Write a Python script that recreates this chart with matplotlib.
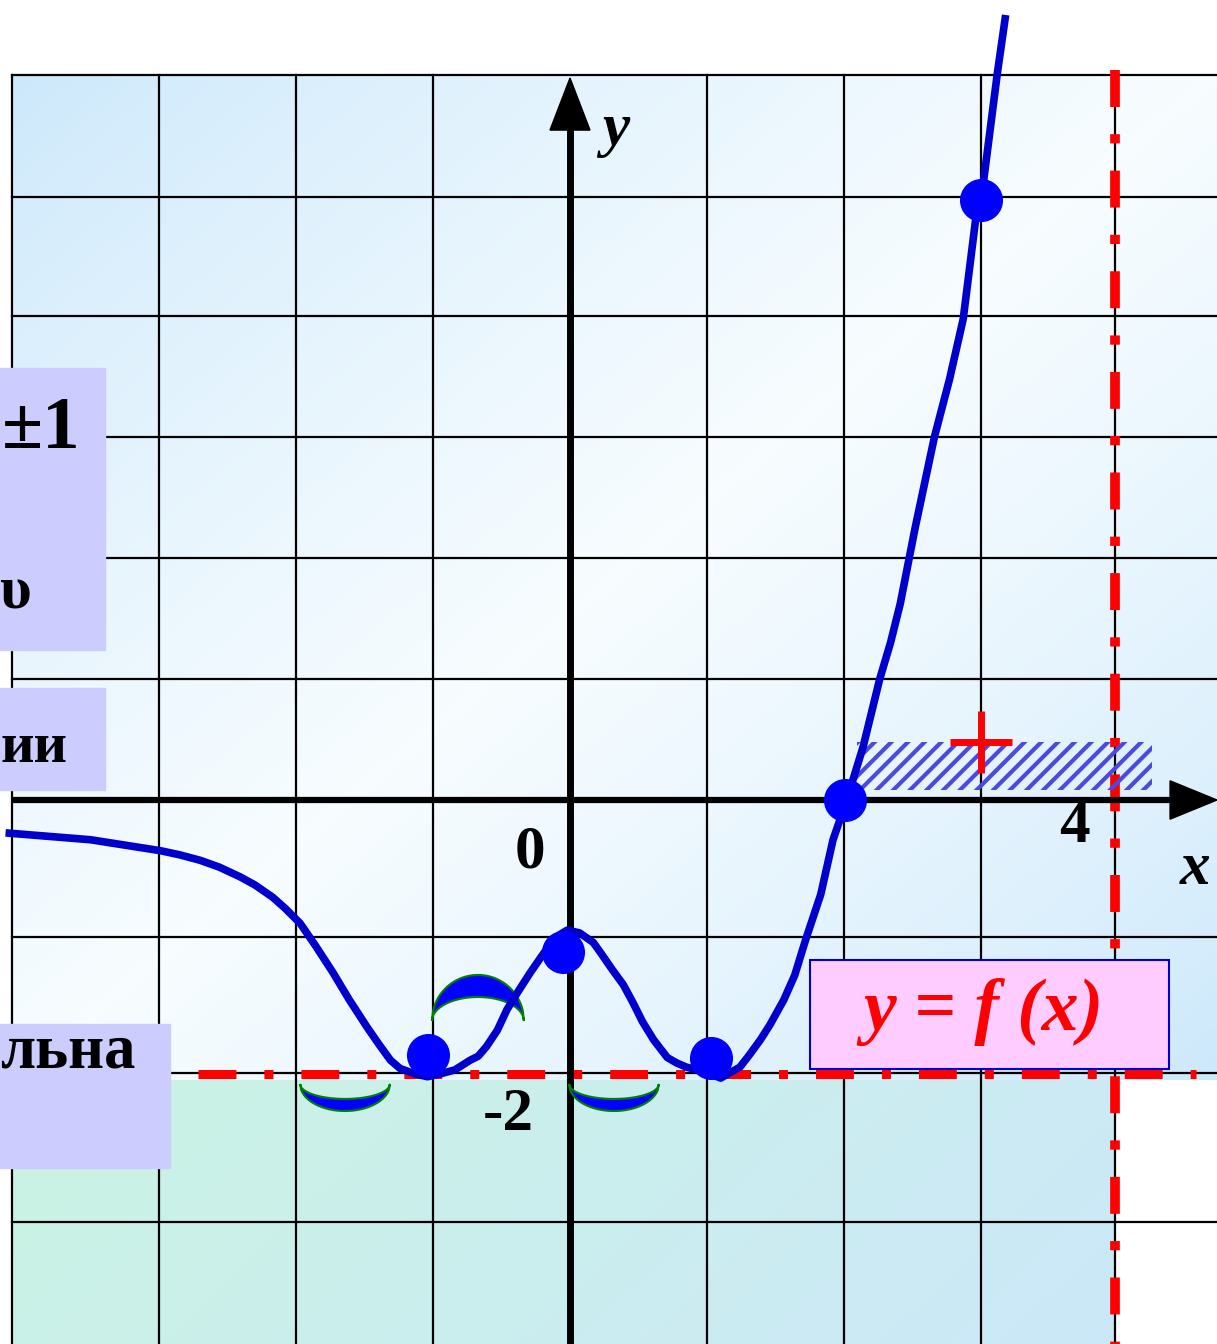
import numpy as np
import matplotlib
matplotlib.use('Agg')
import matplotlib.pyplot as plt
from matplotlib.patches import Polygon, Rectangle

# точки кривой y = f(x)
curve_x = [-4.12, -3.50, -2.99, -2.85, -2.70, -2.56, -2.41, -2.30, -2.17, -2.08, -1.97,
           -1.86, -1.73, -1.61, -1.48, -1.39, -1.31, -1.24, -1.13, -1.04, -0.95, -0.84,
           -0.73, -0.67, -0.61, -0.53, -0.46, -0.38, -0.29, -0.20, -0.12, -0.07, -0.02,
           0.07, 0.17, 0.22, 0.31, 0.39, 0.46, 0.53, 0.61, 0.71, 0.78, 0.85, 0.93, 1.00,
           1.10, 1.24, 1.31, 1.39, 1.46, 1.56, 1.64, 1.72, 1.83, 1.92, 2.02, 2.14, 2.26,
           2.34, 2.41, 2.52, 2.59, 2.66, 2.77, 2.87, 2.96, 3.00, 3.12, 3.18]
curve_y = [-0.24, -0.29, -0.37, -0.40, -0.44, -0.49, -0.56, -0.62, -0.71, -0.79, -0.90,
           -1.06, -1.26, -1.46, -1.66, -1.79, -1.90, -1.96, -2.00, -2.02, -2.00, -1.97,
           -1.90, -1.87, -1.80, -1.68, -1.53, -1.40, -1.26, -1.13, -1.02, -0.98, -0.95,
           -0.97, -1.04, -1.11, -1.24, -1.35, -1.48, -1.62, -1.75, -1.88, -1.92, -1.95,
           -1.97, -1.99, -2.03, -1.95, -1.86, -1.75, -1.64, -1.46, -1.28, -1.02, -0.69,
           -0.29, 0.00, 0.39, 0.88, 1.15, 1.43, 1.99, 2.32, 2.65, 3.07, 3.51, 4.23, 4.37,
           5.31, 5.73]

# отмеченные точки
dot_x = [-1.04, -0.05, 1.03, 2.01, 3.00]
dot_y = [-1.86, -1.11, -1.88, 0.00, 4.38]

# линии сетки
grid_x = [-4.07, -3, -2, -1, 1, 2, 3, 3.98]
grid_y = [5.29, 4.40, 3.53, 2.65, 1.77, 0.88, -1.00, -1.99, -3.08]

# асимптоты / уровни
y_level = -2
x_level = 3.98

# подписи на осях
tick_labels = ['0', '4', '-2']

FIG_W, FIG_H = 1217, 1344
SCALE = 137.0
X0, Y0 = 570, 800
xmin, xmax = -X0 / SCALE, (FIG_W - X0) / SCALE
ymin, ymax = (Y0 - FIG_H) / SCALE, Y0 / SCALE

fig = plt.figure(figsize=(FIG_W / 100, FIG_H / 100), dpi=100)
ax = fig.add_axes([0, 0, 1, 1])
ax.set_axis_off()

serif = 'Liberation Serif'

# фон: голубой градиент
left, top = grid_x[0], grid_y[0]
bot_blue = -2.044
nx, ny = 200, 200
u = np.linspace(0, 1, nx)[None, :]
v = np.linspace(0, 1, ny)[:, None]
t = (u + v) / 2
w = (1 - np.abs(2 * t - 1)) ** 0.8
blue = np.array([0.80, 0.91, 0.985])
white = np.array([0.97, 0.99, 1.0])
img = blue[None, None, :] + (white - blue)[None, None, :] * w[:, :, None]
ax.imshow(img, extent=(left, xmax, bot_blue, top), origin='upper',
          aspect='auto', interpolation='bilinear', zorder=0)

# нижняя зелёная область
g_left = np.array([0.79, 0.955, 0.89])
g_right = np.array([0.80, 0.91, 0.975])
s = np.clip((u * 0.8 + v * 0.2), 0, 1)
img2 = g_left[None, None, :] + (g_right - g_left)[None, None, :] * s[:, :, None]
ax.imshow(img2, extent=(left, x_level, ymin, bot_blue), origin='upper',
          aspect='auto', interpolation='bilinear', zorder=0)

# сетка
for gx in grid_x:
    ax.plot([gx, gx], [ymin, top], color='black', lw=1.6, zorder=1)
for gy in grid_y:
    ax.plot([left, xmax], [gy, gy], color='black', lw=1.6, zorder=1)

# красные штрихпунктирные линии
ax.plot([-2.715, 4.57], [y_level, y_level], color='red', lw=6.5,
        dashes=(4.2, 3.1, 1.0, 3.1), dash_capstyle='butt', zorder=2)
ax.plot([x_level, x_level], [5.33, ymin], color='red', lw=7,
        dashes=(3.8, 2.8, 0.95, 2.8), dash_capstyle='butt', zorder=2)

# штриховка и знак +
plt.rcParams['hatch.linewidth'] = 3
ax.fill_between([2.095, 4.25], 0.07, 0.42, facecolor='none', edgecolor='#4a4ae0',
                hatch='//', linewidth=0, zorder=3)
ax.plot(3.0, 0.42, marker='+', color='red', markersize=45, mew=5, zorder=4)

# оси
ax.plot([left, 4.40], [0, 0], color='black', lw=4.5, solid_capstyle='butt', zorder=5)
ax.add_patch(Polygon([[4.38, 0.14], [4.38, -0.14], [xmax, 0]], closed=True,
                     color='black', zorder=5))
ax.plot([0, 0], [ymin, 4.92], color='black', lw=5, solid_capstyle='butt', zorder=5)
ax.add_patch(Polygon([[-0.146, 4.89], [0.146, 4.89], [0, 5.27]], closed=True,
                     color='black', zorder=5))

# дуги выпуклости / вогнутости
def crescent(cx, hw, tip, outer, inner):
    uu = np.linspace(-1, 1, 80)
    xs = cx + hw * uu
    shape = np.sqrt(1 - uu ** 2)
    yo = tip + (outer - tip) * shape
    yi = tip + (inner - tip) * shape
    pts = np.column_stack([np.r_[xs, xs[::-1]], np.r_[yo, yi[::-1]]])
    ax.add_patch(Polygon(pts, closed=True, facecolor='#0000ff', edgecolor='#008000',
                         lw=1.5, zorder=6))

crescent(-0.672, 0.336, -1.613, -1.277, -1.438)
crescent(-1.642, 0.328, -2.073, -2.270, -2.182)
crescent(0.321, 0.328, -2.073, -2.270, -2.182)

# кривая и точки
ax.plot(curve_x, curve_y, color='#0000cc', lw=5.5, solid_joinstyle='round',
        solid_capstyle='butt', zorder=7)
ax.plot(dot_x, dot_y, 'o', color='#0000ff', markersize=31, markeredgewidth=0, zorder=8)

# подписи
ax.text(0.33, 4.89, 'y', fontsize=44, family=serif, style='italic', weight='bold',
        ha='center', va='center', zorder=9)
ax.text(4.56, -0.50, 'x', fontsize=44, family=serif, style='italic', weight='bold',
        ha='center', va='center', zorder=9)
ax.text(-0.29, -0.38, tick_labels[0], fontsize=44, family=serif, weight='bold',
        ha='center', va='center', zorder=9)
ax.text(3.68, -0.20, tick_labels[1], fontsize=44, family=serif, weight='bold',
        ha='center', va='center', zorder=9)
ax.text(-0.45, -2.30, tick_labels[2], fontsize=44, family=serif, weight='bold',
        ha='center', va='center', zorder=9)

# сиреневые плашки слева (текст обрезан краем)
box_c = '#ccccff'
ax.add_patch(Rectangle((xmin, 1.095), 0.767, 2.058, color=box_c, zorder=10))
ax.add_patch(Rectangle((xmin, 0.073), 0.767, 0.745, color=box_c, zorder=10))
ax.add_patch(Rectangle((xmin, -2.686), 1.241, 1.051, color=box_c, zorder=10))
ax.text(-3.86, 2.569, '±1', fontsize=54, family=serif, weight='bold',
        ha='center', va='baseline', zorder=11)
ax.text(-4.05, 1.40, 'υ', fontsize=44, family=serif, weight='bold',
        ha='center', va='baseline', zorder=11)
ax.text(xmin, 0.277, 'ии', fontsize=42, family=serif, weight='bold',
        ha='left', va='baseline', zorder=11)
ax.text(xmin, -1.949, 'льна', fontsize=45, family=serif, weight='bold',
        ha='left', va='baseline', zorder=11)

# розовая плашка y = f(x)
ax.add_patch(Rectangle((1.752, -1.964), 2.62, 0.796, facecolor='#ffccff',
                       edgecolor='#0000cc', lw=1.5, zorder=10))
ax.text(3.02, -1.55, 'y = f (x)', fontsize=53, family=serif, style='italic',
        weight='bold', color='red', ha='center', va='center', zorder=11)

ax.set_xlim(xmin, xmax)
ax.set_ylim(ymin, ymax)
fig.savefig('out.png', dpi=100, facecolor='white')
plt.close(fig)
